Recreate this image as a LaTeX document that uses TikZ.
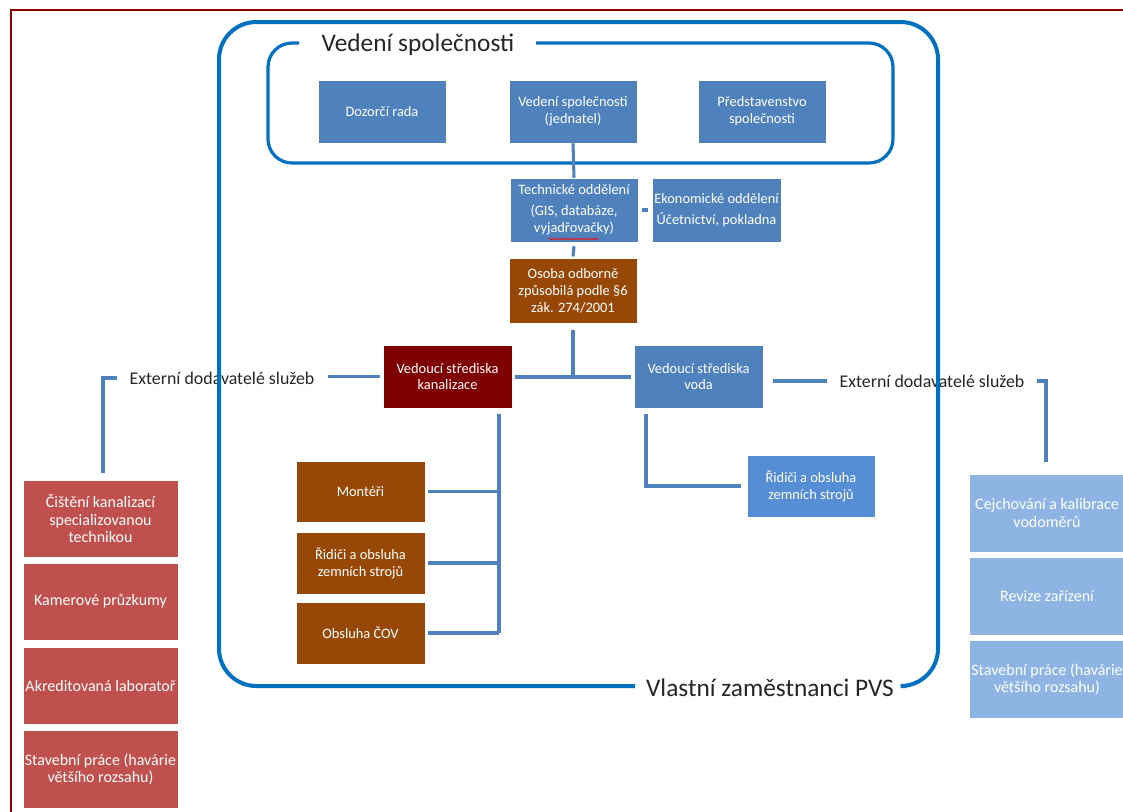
\documentclass[tikz,border=0pt]{standalone}
\usepackage{fontspec}
\setmainfont{Carlito}
\usetikzlibrary{decorations.pathmorphing}
\definecolor{bxblue}{HTML}{4F81BD}
\definecolor{bxbrown}{HTML}{974806}
\definecolor{bxdark}{HTML}{7F0000}
\definecolor{bxred}{HTML}{C0504D}
\definecolor{bxlight}{HTML}{8EB4E3}
\definecolor{bxbright}{HTML}{558ED5}
\definecolor{frameblue}{HTML}{0070C0}
\definecolor{borderred}{HTML}{8B0000}
\definecolor{txtgray}{HTML}{262626}
\begin{document}
\begin{tikzpicture}[x=0.75pt,y=-0.75pt,
  box/.style={rectangle, draw=white, line width=0.4pt, text=white, align=center, inner sep=0pt,
    font=\fontsize{10.8}{12.6}\selectfont},
  bigbox/.style={box, font=\fontsize{12}{13}\selectfont},
  sz/.style 2 args={minimum width=#1*0.75pt, minimum height=#2*0.75pt},
  conn/.style={draw=bxblue, line width=2.3pt},
  frame/.style={draw=frameblue, line width=3pt},
  biglabel/.style={text=txtgray, inner sep=0pt, font=\fontsize{19}{22}\selectfont},
  extlabel/.style={text=txtgray, inner sep=0pt, font=\fontsize{13.4}{15}\selectfont}]
\useasboundingbox (0,0) rectangle (1123,811);
\clip (0,0) rectangle (1123,811);
\fill[white] (0,0) rectangle (1123,811);

% page border
\draw[draw=borderred, line width=2pt] (11,830) -- (11,10) -- (1140,10);

% external labels (drawn before the frame, which crosses them)
\node[extlabel] (ext1) at (222,378) {Externí dodavatelé služeb};
\node[extlabel] (ext2) at (932,381) {Externí dodavatelé služeb};

% outer frame
\node[biglabel] (own) at (770,688) {Vlastní zaměstnanci PVS};
\draw[frame, rounded corners=28pt] (635,686) -- (219,686) -- (219,22) -- (938,22) -- (938,686) -- (906,686);

% inner frame
\node[biglabel] (mgmt) at (418,45) {Vedení společnosti};
\draw[frame, line width=2.4pt, rounded corners=18pt] (299,43) -- (268,43) -- (268,163) -- (893,163) -- (893,43) -- (536,43);

% management boxes
\node[box, sz={128}{63}, fill=bxblue] (dozor) at (382,111.5) {Dozorčí rada};
\node[box, sz={128}{63}, fill=bxblue] (jedn) at (573,111.5) {Vedení společnosti\\(jednatel)};
\node[box, sz={128}{63}, fill=bxblue] (pred) at (762,111.5) {Představenstvo\\společnosti};

% departments
\node[box, sz={128}{64}, fill=bxblue] (tech) at (574,210) {Technické oddělení\\[3pt](GIS, databáze,\\vyjadřovačky)};
\node[box, sz={129}{64}, fill=bxblue] (ekon) at (716.5,210) {Ekonomické oddělení\\[3pt]Účetnictví, pokladna};
\draw[decorate, decoration={snake, amplitude=0.6pt, segment length=2.5pt}, draw=red, line width=0.5pt] (549,239) -- (599,239);

\node[box, sz={128}{65}, fill=bxbrown] (osoba) at (573,290.5) {Osoba odborně\\způsobilá podle §6\\zák. 274/2001};

\node[box, sz={129}{63}, fill=bxdark] (kanal) at (447.5,376.5) {Vedoucí střediska\\kanalizace};
\node[box, sz={129}{63}, fill=bxblue] (voda) at (698.5,376.5) {Vedoucí střediska\\voda};

% kanalizace staff
\node[box, sz={129}{61}, fill=bxbrown] (mont) at (360.5,491.5) {Montéři};
\node[box, sz={129}{62}, fill=bxbrown] (rid1) at (360.5,563) {Řidiči a obsluha\\zemních strojů};
\node[box, sz={129}{62}, fill=bxbrown] (cov) at (360.5,633) {Obsluha ČOV};

% voda staff
\node[box, sz={128}{62}, fill=bxbright] (rid2) at (811,486) {Řidiči a obsluha\\zemních strojů};

% external left column
\node[bigbox, sz={155}{77}, fill=bxred] (l1) at (100.5,518.5) {Čištění kanalizací\\specializovanou\\technikou};
\node[bigbox, sz={155}{77}, fill=bxred] (l2) at (100.5,601.5) {Kamerové průzkumy};
\node[bigbox, sz={155}{77}, fill=bxred] (l3) at (100.5,685.5) {Akreditovaná laboratoř};
\node[bigbox, sz={155}{78}, fill=bxred] (l4) at (100.5,769) {Stavební práce (havárie\\většího rozsahu)};

% external right column
\node[bigbox, sz={156}{78}, fill=bxlight] (r1) at (1047,513) {Cejchování a kalibrace\\vodoměrů};
\node[bigbox, sz={156}{78}, fill=bxlight] (r2) at (1047,596) {Revize zařízení};
\node[bigbox, sz={156}{78}, fill=bxlight] (r3) at (1047,679) {Stavební práce (havárie\\většího rozsahu)};

% connectors
\draw[conn] (jedn.south) -- (tech.north);
\draw[conn] ([xshift=2.5pt]tech.east) -- ([xshift=-3pt]ekon.west);
\draw[conn] ([yshift=-3pt]tech.south) -- ([yshift=1pt]osoba.north);

\coordinate (bus) at (573,377);
\draw[conn] ([yshift=-5pt]osoba.south) -- (bus);
\draw[conn] ([xshift=2pt]kanal.east |- bus) -- ([xshift=-2pt]voda.west |- bus);

\draw[conn] ([xshift=10pt]ext1.east |- kanal.west) -- ([xshift=-2pt]kanal.west);
\draw[conn] ([xshift=-9pt]ext1.west) -| ([yshift=5pt]l1.north -| 103,0);

\draw[conn] ([xshift=7pt]voda.east |- ext2.west) -- ([xshift=-9pt]ext2.west);
\draw[conn] ([xshift=9pt]ext2.east) -| ([yshift=9pt]r1.north -| 1046,0);

\coordinate (kx) at (499,0);
\draw[conn] ([yshift=-4pt]kanal.south -| kx) -- (cov.east -| kx);
\draw[conn] ([xshift=2pt]mont.east) -- (mont.east -| kx);
\draw[conn] ([xshift=2pt]rid1.east) -- (rid1.east -| kx);
\draw[conn] ([xshift=2pt]cov.east) -- (cov.east -| kx);

\coordinate (vx) at (646,0);
\draw[conn] ([yshift=-4pt]voda.south -| vx) |- ([xshift=-4pt]rid2.west);
\end{tikzpicture}
\end{document}
